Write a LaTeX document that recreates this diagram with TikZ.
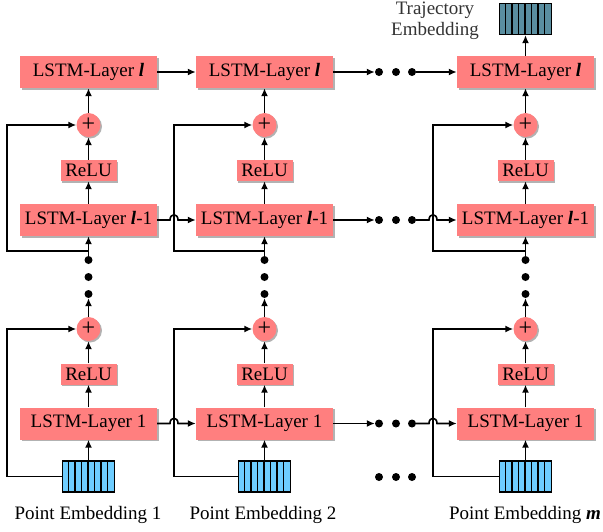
\documentclass[tikz,border=0pt]{standalone}
\usepackage{fontspec}
\setmainfont{Liberation Serif}
\usetikzlibrary{arrows.meta,shadows}
\definecolor{lstm}{RGB}{255,127,127}
\definecolor{pemb}{RGB}{110,205,255}
\definecolor{temb}{RGB}{90,142,160}
\newcommand{\bl}{\textbf{\textit{l}}}
\begin{document}
\begin{tikzpicture}[x=1pt,y=-1pt,
  shad/.style={drop shadow={shadow xshift=1.5pt,shadow yshift=-1.5pt,opacity=0.3,fill=black}},
  lstmbox/.style={shad,fill=lstm,minimum width=137pt,minimum height=32pt,inner sep=0pt,font=\fontsize{19}{20}\selectfont},
  relubox/.style={shad,fill=lstm,minimum width=56pt,minimum height=21pt,inner sep=0pt,font=\fontsize{19}{20}\selectfont},
  plusnode/.style={shad,circle,fill=lstm,minimum size=24pt,inner sep=0pt,font=\fontsize{24}{24}\selectfont},
  embbox/.style={draw=black,line width=1.2pt,minimum width=52pt,minimum height=31pt,inner sep=0pt},
  bigdot/.style={circle,fill=black,minimum size=8pt,inner sep=0pt},
  arr/.style={line width=1.6pt,-{Latex[length=8pt,width=7pt]}},
  lbl/.style={font=\fontsize{19}{21}\selectfont,inner sep=0pt}
]
\path[use as bounding box] (0,0) rectangle (603,531);

% ---------- column nodes ----------
\foreach \c/\x/\s in {1/88.5/7, 2/264.5/174, 3/525.5/433}{
  \node[lstmbox] (L\c) at (\x,72) {LSTM-Layer \bl};
  \node[plusnode] (pa\c) at (\x,125) {+};
  \node[relubox] (ra\c) at (\x,170.5) {ReLU};
  \node[lstmbox] (M\c) at (\x,220) {LSTM-Layer \bl-1};
  \node[bigdot] (da\c) at (\x,260) {};
  \node[bigdot] (db\c) at (\x,277) {};
  \node[bigdot] (dc\c) at (\x,294) {};
  \node[plusnode] (pb\c) at (\x,329) {+};
  \node[relubox] (rb\c) at (\x,374) {ReLU};
  \node[lstmbox] (F\c) at (\x,423.5) {LSTM-Layer 1};
  \node[embbox,fill=pemb] (E\c) at (\x,476.5) {};
  \foreach \k in {1,...,7}{
    \draw[line width=1.2pt] ([xshift=\k*6.5pt]E\c.south west) -- ([xshift=\k*6.5pt]E\c.north west);
  }
  \coordinate (J\c) at (\x,251);
  \coordinate (SA\c) at (\s,125);
  \coordinate (SB\c) at (\s,329);
  % vertical connectors
  \draw[arr] (E\c.north) -- (F\c.south);
  \draw[arr] (F\c.north) -- (rb\c.south);
  \draw[arr] (rb\c.north) -- (pb\c.south);
  \draw[arr] (pb\c.north) -- (dc\c.south);
  \draw[arr] (da\c.north) -- (M\c.south);
  \draw[arr] (M\c.north) -- (ra\c.south);
  \draw[arr] (ra\c.north) -- (pa\c.south);
  \draw[arr] (pa\c.north) -- (L\c.south);
  % skip connections
  \draw[arr] (E\c.west) -| (SB\c) -- (pb\c.west);
  \draw[arr] (J\c) -| (SA\c) -- (pa\c.west);
}

% trajectory embedding
\node[embbox,fill=temb] (T) at (525.5,19) {};
\foreach \k in {1,...,7}{
  \draw[line width=1.2pt] ([xshift=\k*6.5pt]T.south west) -- ([xshift=\k*6.5pt]T.north west);
}
\draw[arr] (L3.north) -- (T.south);
\node[lbl,align=center,text=black!80] (TL) at (435,21) {Trajectory\\Embedding};

% horizontal dots
\foreach \r/\y in {L/72, M/220, F/423.5, X/477}{
  \node[bigdot] (h\r1) at (379,\y) {};
  \node[bigdot] (h\r2) at (396,\y) {};
  \node[bigdot] (h\r3) at (412,\y) {};
}

% row l
\draw[arr] (L1.east) -- (L2.west);
\draw[arr] (L2.east) -- (hL1.west);
\draw[arr] (hL3.east) -- (L3.west);

% row l-1 (with hops)
\draw[arr] (M1.east) -- (170,220) .. controls (170,213) and (178,213) .. (178,220) -- (M2.west);
\draw[arr] (M2.east) -- (hM1.west);
\draw[arr] (hM3.east) -- (429,220) .. controls (429,213) and (437,213) .. (437,220) -- (M3.west);

% row 1 (with hops)
\draw[arr] (F1.east) -- (170,423.5) .. controls (170,416.5) and (178,416.5) .. (178,423.5) -- (F2.west);
\draw[arr] (F2.east) -- (hF1.west);
\draw[arr] (hF3.east) -- (429,423.5) .. controls (429,416.5) and (437,416.5) .. (437,423.5) -- (F3.west);

% labels
\node[lbl] (P1) at (88,515) {Point Embedding 1};
\node[lbl] (P2) at (263,515) {Point Embedding 2};
\node[lbl] (P3) at (525,515) {Point Embedding \textbf{\textit{m}}};
\end{tikzpicture}
\end{document}
